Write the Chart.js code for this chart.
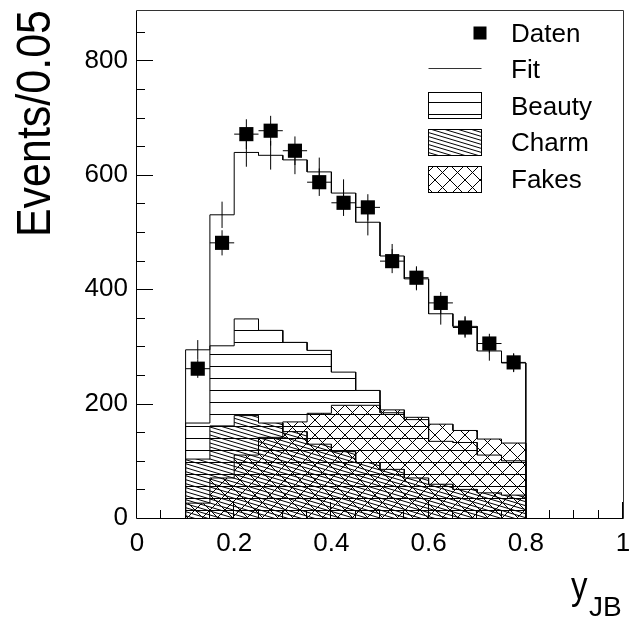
<!DOCTYPE html>
<html>
<head>
<meta charset="utf-8">
<script src="https://cdn.jsdelivr.net/npm/chart.js@4.4.1/dist/chart.umd.min.js"></script>
<style>
  html, body { margin: 0; padding: 0; background: #fff; }
  canvas { display: block; }
</style>
</head>
<body>
<canvas id="histo" width="634" height="618"></canvas>
<script>
// bins of 0.05 in y_JB
const binEdges = [0.10, 0.15, 0.20, 0.25, 0.30, 0.35, 0.40, 0.45, 0.50, 0.55, 0.60, 0.65, 0.70, 0.75, 0.80];
const daten    = [261, 481, 671, 677, 642, 587, 551, 543, 449, 420, 376, 333, 305, 272];
const datenErr = [16, 22, 26, 26, 25, 24, 23, 23, 21, 20, 19, 18, 17, 16];
const fitVals  = [294, 530, 639, 634, 626, 605, 568, 517, 458, 418, 357, 335, 292, 271];
const fitErr   = [17, 23, 25, 25, 25, 25, 24, 23, 21, 20, 19, 18, 17, 16];
const beauty   = [166, 301, 348, 328, 307, 293, 255, 223, 184, 172, 134, 132, 110, 100];
const charm    = [103, 161, 179, 166, 151, 129, 116, 97, 85, 70, 59, 50, 44, 40];
const fakes    = [26, 70, 110, 141, 168, 183, 197, 197, 189, 176, 164, 153, 138, 131];
const xTicks = [0, 0.2, 0.4, 0.6, 0.8, 1];
const yTicks = [0, 200, 400, 600, 800];
const legendNames = ["Daten", "Fit", "Beauty", "Charm", "Fakes"];

const FONT = '"Liberation Sans", Arial, Helvetica, sans-serif';
const canvas = document.getElementById("histo");
const ctx = canvas.getContext("2d");

function hatch(w, h, drawFn) {
    const c = document.createElement("canvas");
    c.width = w;
    c.height = h;
    const g = c.getContext("2d");
    g.strokeStyle = "#000";
    g.lineWidth = 1;
    g.beginPath();
    drawFn(g);
    g.stroke();
    return ctx.createPattern(c, "repeat");
}

const horizHatch = hatch(8, 12, g => { g.moveTo(0, 6.5); g.lineTo(8, 6.5); });
const diagHatch = hatch(40, 12, g => {
    for (let c = -12; c <= 12; c += 4) { g.moveTo(0, c); g.lineTo(40, c + 12); }
});
const crossHatch = hatch(15, 15, g => {
    for (const o of [-15, 0, 15]) {
        g.moveTo(o, 0); g.lineTo(o + 15, 15);
        g.moveTo(o + 15, 0); g.lineTo(o, 15);
    }
});

// histogram outline with explicit corners
function stepLine(vals) {
    const pts = [{ x: binEdges[0], y: 0 }];
    vals.forEach((v, i) => {
        pts.push({ x: binEdges[i], y: v });
        pts.push({ x: binEdges[i + 1], y: v });
    });
    pts.push({ x: binEdges[vals.length], y: 0 });
    return pts;
}

function errSegs(vals, errs, withX) {
    const pts = [];
    vals.forEach((v, i) => {
        const c = (binEdges[i] + binEdges[i + 1]) / 2;
        pts.push({ x: c, y: v - errs[i] }, { x: c, y: v + errs[i] }, { x: c, y: null });
        if (withX) {
            pts.push({ x: binEdges[i], y: v }, { x: binEdges[i + 1], y: v }, { x: binEdges[i + 1], y: null });
        }
    });
    return pts;
}

const centers = daten.map((v, i) => ({ x: (binEdges[i] + binEdges[i + 1]) / 2, y: v }));

function histSet(label, vals, pattern, order) {
    return {
        label: label,
        data: stepLine(vals),
        showLine: true,
        borderColor: "#000",
        borderWidth: 1,
        backgroundColor: pattern,
        fill: pattern ? "origin" : false,
        pointRadius: 0,
        tension: 0,
        order: order
    };
}

const rootStyle = {
    id: "rootStyle",
    afterDraw(chart) {
        const { ctx, chartArea: a, scales: { x, y } } = chart;
        ctx.save();
        ctx.strokeStyle = "#000";
        ctx.lineWidth = 1;

        // inner ticks
        ctx.beginPath();
        for (let v = 0; v <= y.max; v += 50) {
            const py = Math.round(y.getPixelForValue(v)) + 0.5;
            const len = v % 200 === 0 ? 16 : 8;
            ctx.moveTo(a.left, py);
            ctx.lineTo(a.left + len, py);
        }
        for (let k = 0; k <= 20; k++) {
            const px = Math.round(x.getPixelForValue(k * 0.05)) - 0.5;
            const len = k % 4 === 0 ? 16 : 8;
            ctx.moveTo(px, a.bottom);
            ctx.lineTo(px, a.bottom - len);
        }
        ctx.stroke();

        // frame
        ctx.beginPath();
        ctx.moveTo(a.left - 0.5, a.top + 0.5);
        ctx.lineTo(a.left - 0.5, a.bottom + 0.5);
        ctx.lineTo(a.right + 0.5, a.bottom + 0.5);
        ctx.stroke();
        ctx.strokeStyle = "#333";
        ctx.beginPath();
        ctx.moveTo(a.left - 0.5, a.top + 0.5);
        ctx.lineTo(a.right + 0.5, a.top + 0.5);
        ctx.lineTo(a.right + 0.5, a.bottom + 0.5);
        ctx.stroke();

        // axis titles
        ctx.fillStyle = "#000";
        ctx.save();
        ctx.translate(50, 10);
        ctx.rotate(-Math.PI / 2);
        ctx.scale(1, 1.13);
        ctx.font = "43px " + FONT;
        ctx.textAlign = "right";
        ctx.textBaseline = "alphabetic";
        ctx.fillText("Events/0.05", 0, 0);
        ctx.restore();

        ctx.save();
        ctx.translate(571, 598.5);
        ctx.scale(1, 1.15);
        ctx.font = "33px " + FONT;
        ctx.textAlign = "left";
        ctx.fillText("y", 0, 0);
        ctx.restore();
        ctx.font = "28px " + FONT;
        ctx.textAlign = "left";
        ctx.fillText("JB", 589, 616);

        // legend
        const lx0 = 428.5, lx1 = 481.5;
        const base = [41.7, 78.2, 114.7, 151.2, 187.7];
        ctx.fillStyle = "#000";
        ctx.fillRect(473.5, 26.5, 13, 13);
        ctx.beginPath();
        ctx.moveTo(lx0, 68.5);
        ctx.lineTo(lx1, 68.5);
        ctx.stroke();
        const boxes = [[92.5, horizHatch], [129.5, diagHatch], [166.5, crossHatch]];
        ctx.strokeStyle = "#000";
        boxes.forEach(([top, pat]) => {
            ctx.fillStyle = pat;
            ctx.fillRect(lx0, top, lx1 - lx0, 26);
            ctx.strokeRect(lx0, top, lx1 - lx0, 26);
        });
        ctx.fillStyle = "#000";
        ctx.font = "26px " + FONT;
        ctx.textAlign = "left";
        ctx.textBaseline = "alphabetic";
        legendNames.forEach((n, i) => ctx.fillText(n, 511, base[i]));
        ctx.restore();
    }
};

new Chart(ctx, {
    type: "scatter",
    data: {
        datasets: [
            {
                label: "Daten",
                data: centers,
                pointStyle: "rect",
                pointRadius: 10,
                pointBackgroundColor: "#000",
                pointBorderWidth: 0,
                showLine: false,
                order: 0
            },
            {
                label: "Daten err",
                data: errSegs(daten, datenErr, true),
                showLine: true,
                borderColor: "#000",
                borderWidth: 1,
                pointRadius: 0,
                spanGaps: false,
                order: 1
            },
            histSet("Fit", fitVals, null, 2),
            {
                label: "Fit err",
                data: errSegs(fitVals, fitErr, false),
                showLine: true,
                borderColor: "#000",
                borderWidth: 1,
                pointRadius: 0,
                spanGaps: false,
                order: 3
            },
            histSet("Fakes", fakes, crossHatch, 4),
            histSet("Charm", charm, diagHatch, 5),
            histSet("Beauty", beauty, horizHatch, 6)
        ]
    },
    options: {
        responsive: false,
        animation: false,
        devicePixelRatio: 1,
        layout: { padding: { top: 10, right: 11, left: 0, bottom: 0 } },
        plugins: {
            legend: { display: false },
            tooltip: { enabled: false }
        },
        scales: {
            x: {
                type: "linear",
                min: 0,
                max: 1,
                afterBuildTicks: s => { s.ticks = xTicks.map(v => ({ value: v })); },
                afterFit: s => { s.height = 100; s.paddingLeft = 0; s.paddingRight = 0; },
                ticks: {
                    color: "#000",
                    padding: 10,
                    maxRotation: 0,
                    autoSkip: false,
                    font: { family: FONT, size: 26 },
                    callback: v => String(v)
                },
                grid: { display: false, drawTicks: false },
                border: { display: false }
            },
            y: {
                type: "linear",
                min: 0,
                max: 888,
                afterBuildTicks: s => { s.ticks = yTicks.map(v => ({ value: v })); },
                afterFit: s => { s.width = 137; s.paddingTop = 0; s.paddingBottom = 0; },
                ticks: {
                    color: "#000",
                    padding: 9,
                    font: { family: FONT, size: 26 },
                    callback: v => String(v)
                },
                grid: { display: false, drawTicks: false },
                border: { display: false }
            }
        }
    },
    plugins: [rootStyle]
});
</script>
</body>
</html>
